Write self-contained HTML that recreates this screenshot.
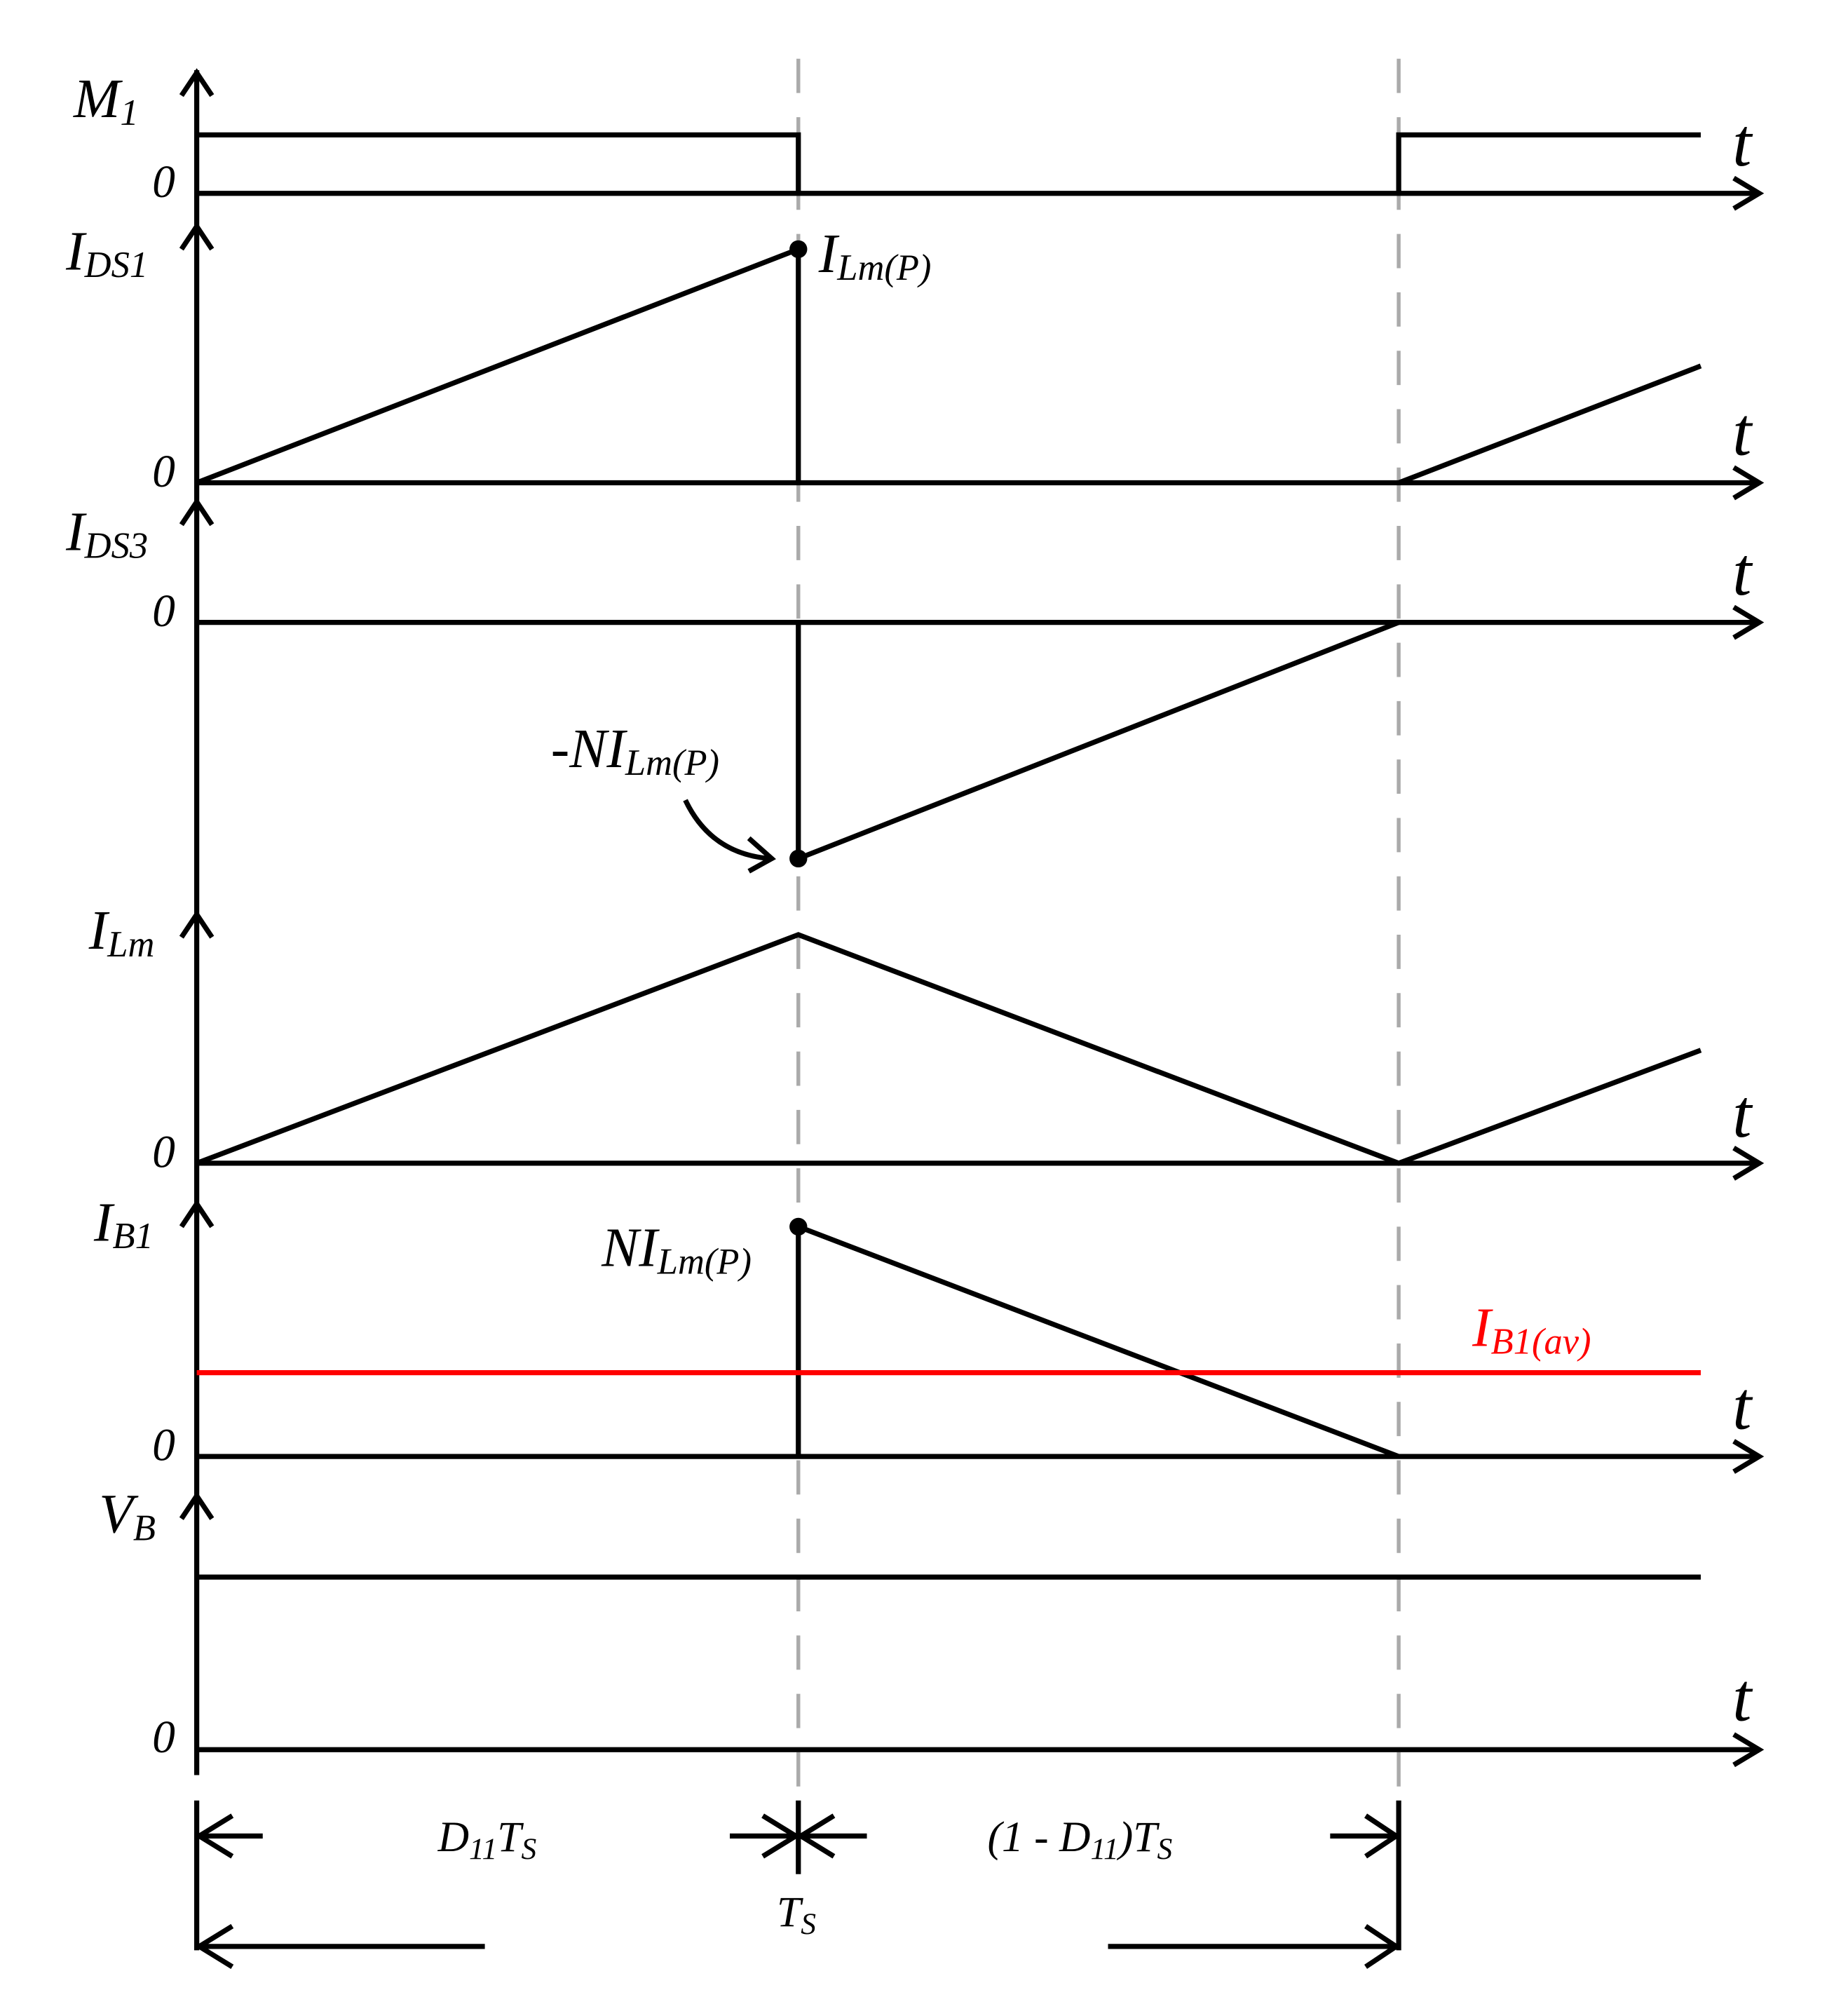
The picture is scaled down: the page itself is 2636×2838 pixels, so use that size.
<!DOCTYPE html>
<html><head><meta charset="utf-8"><style>
html,body{margin:0;padding:0;background:#fff;}
svg{display:block;}
text{font-family:"Liberation Serif",serif;font-style:italic;fill:#000;}
</style></head><body>
<svg width="2636" height="2838" viewBox="0 0 1456 1567" xmlns="http://www.w3.org/2000/svg">
<g stroke="#aaa" stroke-width="3" stroke-dasharray="27,19" fill="none">
<line x1="629" y1="46" x2="629" y2="1440"/>
<line x1="1102" y1="46" x2="1102" y2="1440"/>
</g>
<g stroke="#000" stroke-width="4" fill="none" stroke-linecap="butt" stroke-linejoin="miter">
<line x1="155" y1="55" x2="155" y2="1398"/>
<polyline points="143,75 155,57 167,75"/>
<polyline points="143,196 155,178 167,196"/>
<polyline points="143,413 155,395 167,413"/>
<polyline points="143,738 155,720 167,738"/>
<polyline points="143,966 155,948 167,966"/>
<polyline points="143,1196 155,1178 167,1196"/>
<line x1="155" y1="152" x2="1386" y2="152"/><polyline points="1366,140 1386,152 1366,164"/>
<line x1="155" y1="380" x2="1386" y2="380"/><polyline points="1366,368 1386,380 1366,392"/>
<line x1="155" y1="490" x2="1386" y2="490"/><polyline points="1366,478 1386,490 1366,502"/>
<line x1="155" y1="916" x2="1386" y2="916"/><polyline points="1366,904 1386,916 1366,928"/>
<line x1="155" y1="1147" x2="1386" y2="1147"/><polyline points="1366,1135 1386,1147 1366,1159"/>
<line x1="155" y1="1378" x2="1386" y2="1378"/><polyline points="1366,1366 1386,1378 1366,1390"/>
<polyline points="155,106 629,106 629,152"/>
<polyline points="1102,152 1102,106 1340,106"/>
<polyline points="155,380 629,196 629,380"/>
<line x1="1102" y1="380" x2="1340" y2="288"/>
<polyline points="629,490 629,676 1102,490"/>
<path d="M540,630 Q560,672 606,676"/>
<polyline points="590,660 608,676 590,686"/>
<polyline points="155,916 629,736 1102,916 1340,827"/>
<polyline points="629,1147 629,966 1102,1147"/>
<line x1="155" y1="1242" x2="1340" y2="1242"/>
<line x1="155" y1="1418" x2="155" y2="1536"/>
<line x1="1102" y1="1418" x2="1102" y2="1536"/>
<line x1="629" y1="1418" x2="629" y2="1476"/>
<line x1="155" y1="1446" x2="207" y2="1446"/><polyline points="183,1430 157,1446 183,1462"/>
<line x1="575" y1="1446" x2="683" y2="1446"/>
<polyline points="601,1430 627,1446 601,1462"/>
<polyline points="657,1430 631,1446 657,1462"/>
<line x1="1048" y1="1446" x2="1102" y2="1446"/><polyline points="1076,1430 1100,1446 1076,1462"/>
<line x1="155" y1="1533" x2="382" y2="1533"/><polyline points="183,1517 157,1533 183,1549"/>
<line x1="873" y1="1533" x2="1102" y2="1533"/><polyline points="1076,1517 1100,1533 1076,1549"/>
</g>
<line x1="155" y1="1081" x2="1340" y2="1081" stroke="#f00" stroke-width="4"/>
<g fill="#000">
<circle cx="629" cy="196" r="7"/><circle cx="629" cy="676" r="7"/><circle cx="629" cy="966" r="7"/>
</g>
<g font-size="44">
<text x="58" y="92">M<tspan font-size="29" dy="6">1</tspan></text>
<text x="52" y="212">I<tspan font-size="29" dy="6">DS1</tspan></text>
<text x="52" y="433">I<tspan font-size="29" dy="6">DS3</tspan></text>
<text x="70" y="747">I<tspan font-size="29" dy="6">Lm</tspan></text>
<text x="74" y="977">I<tspan font-size="29" dy="6">B1</tspan></text>
<text x="78" y="1207">V<tspan font-size="29" dy="6">B</tspan></text>
<text x="645" y="214">I<tspan font-size="29" dy="6">Lm(P)</tspan></text>
<text x="434" y="604">-NI<tspan font-size="29" dy="6">Lm(P)</tspan></text>
<text x="474" y="997">NI<tspan font-size="29" dy="6">Lm(P)</tspan></text>
<text x="1160" y="1060" style="fill:#f00">I<tspan font-size="29" dy="6">B1(av)</tspan></text>
</g>
<g font-size="36">
<text x="120" y="155">0</text><text x="120" y="383">0</text><text x="120" y="493">0</text>
<text x="120" y="919">0</text><text x="120" y="1150">0</text><text x="120" y="1380">0</text>
</g>
<g font-size="54">
<text x="1365" y="130">t</text><text x="1365" y="358">t</text><text x="1365" y="468">t</text>
<text x="1365" y="895">t</text><text x="1365" y="1125">t</text><text x="1365" y="1355">t</text>
</g>
<g font-size="34">
<text x="345" y="1458">D<tspan font-size="24" dy="6">11</tspan><tspan dy="-6">T</tspan><tspan font-size="24" dy="6">S</tspan></text>
<text x="778" y="1458">(1 - D<tspan font-size="24" dy="6">11</tspan><tspan dy="-6">)T</tspan><tspan font-size="24" dy="6">S</tspan></text>
<text x="612" y="1517">T<tspan font-size="24" dy="6">S</tspan></text>
</g>
</svg>
</body></html>
